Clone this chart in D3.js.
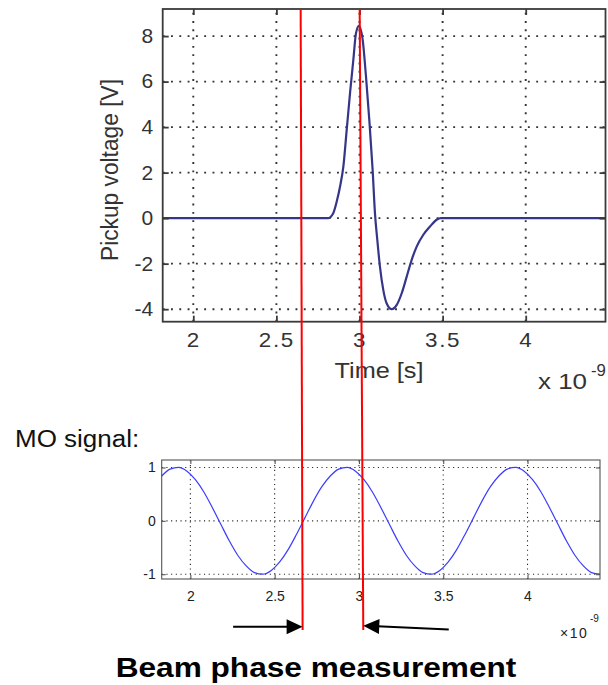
<!DOCTYPE html>
<html>
<head>
<meta charset="utf-8">
<script src="https://cdn.jsdelivr.net/npm/d3@7"></script>
<style>
  html, body { margin: 0; padding: 0; background: #fff; }
  svg { display: block; }
  text { font-family: "Liberation Sans", Arial, Helvetica, sans-serif; }
</style>
</head>
<body>
<svg id="fig" width="608" height="685"></svg>
<script>
// ---- Pickup pulse: time [ns] and voltage [V] ----
const pulseTime = [1.816, 2.81, 2.842, 2.863, 2.883, 2.903, 2.923, 2.943, 2.963, 2.979, 2.997,
                   3.019, 3.039, 3.059, 3.079, 3.093, 3.107, 3.123, 3.143, 3.163, 3.194,
                   3.224, 3.254, 3.284, 3.314, 3.344, 3.384, 3.424, 3.464, 3.49, 4.48];
const pulseVolt = [0, 0, 0.22, 0.73, 1.39, 2.27, 3.88, 5.49, 6.96, 8.13, 8.45,
                   7.84, 6.23, 4.32, 2.12, 0.22, -0.95, -2.13, -3.15, -3.74, -4.00,
                   -3.81, -3.30, -2.57, -1.83, -1.25, -0.73, -0.37, -0.07, 0, 0];

// ---- Master oscillator (MO) reference: time [ns] and normalised amplitude ----
const moTime = [1.83, 1.88, 1.93, 1.98, 2.03, 2.08, 2.13, 2.18, 2.23, 2.28, 2.33, 2.38, 2.43,
                2.48, 2.53, 2.58, 2.63, 2.68, 2.73, 2.78, 2.83, 2.88, 2.93, 2.98, 3.03, 3.08,
                3.13, 3.18, 3.23, 3.28, 3.33, 3.38, 3.43, 3.48, 3.53, 3.58, 3.63, 3.68, 3.73,
                3.78, 3.83, 3.88, 3.93, 3.98, 4.03, 4.08, 4.13, 4.18, 4.23, 4.28, 4.33, 4.38, 4.43];
const moValue = [0.84, 0.97, 1.00, 0.93, 0.77, 0.54, 0.25, -0.06, -0.37, -0.64, -0.84, -0.97, -1.00,
                 -0.93, -0.77, -0.54, -0.25, 0.06, 0.37, 0.64, 0.84, 0.97, 1.00, 0.93, 0.77, 0.54,
                 0.25, -0.06, -0.37, -0.64, -0.84, -0.97, -1.00, -0.93, -0.77, -0.54, -0.25, 0.06, 0.37,
                 0.64, 0.84, 0.97, 1.00, 0.93, 0.77, 0.54, 0.25, -0.06, -0.37, -0.64, -0.84, -0.97, -1.00];

// ---- Tick values ----
const timeTicks = [2, 2.5, 3, 3.5, 4];
const pulseTicks = [-4, -2, 0, 2, 4, 6, 8];
const moTicks = [-1, 0, 1];

// ---- Phase marks: time where each red line crosses the pulse plot and the MO plot ----
const markPulseTime = [2.646, 3.001];
const markMoTime = [2.665, 3.024];

const svg = d3.select("#fig");

// Scales
const xPulse = d3.scaleLinear().domain([1.816, 4.48]).range([162.7, 605.5]);
const yPulse = d3.scaleLinear().domain([-4.55, 9.19]).range([321.7, 9]);
const xMo = d3.scaleLinear().domain([1.83, 4.43]).range([161.7, 600]);
const yMo = d3.scaleLinear().domain([-1.09, 1.14]).range([579, 460]);

const fmt = d => String(d);

function drawPanel(o) {
  const g = svg.append("g");
  const [x0, x1] = o.x.range();
  const [y0, y1] = o.y.range();

  // dotted grid
  g.append("g").selectAll("line").data(o.xt).join("line")
    .attr("x1", d => o.x(d)).attr("x2", d => o.x(d))
    .attr("y1", y0).attr("y2", y1)
    .attr("stroke", o.gridColor).attr("stroke-width", o.gridWidth)
    .attr("stroke-dasharray", o.gridDash);
  g.append("g").selectAll("line").data(o.yt).join("line")
    .attr("x1", x0).attr("x2", x1)
    .attr("y1", d => o.y(d)).attr("y2", d => o.y(d))
    .attr("stroke", o.gridColor).attr("stroke-width", o.gridWidth)
    .attr("stroke-dasharray", o.gridDash);

  // trace
  const line = d3.line()
    .x(d => o.x(d[0])).y(d => o.y(d[1]))
    .curve(d3.curveMonotoneX);
  g.append("path")
    .datum(d3.zip(o.t, o.v))
    .attr("d", line)
    .attr("fill", "none")
    .attr("stroke", o.lineColor)
    .attr("stroke-width", o.lineWidth)
    .attr("stroke-linejoin", "round");

  // inward ticks on all four sides
  const tk = o.tick;
  const bottom = g.append("g").attr("transform", `translate(0,${y0})`)
    .call(d3.axisBottom(o.x).tickValues(o.xt).tickSizeInner(-tk).tickSizeOuter(0)
      .tickPadding(o.xPad).tickFormat(fmt));
  const left = g.append("g").attr("transform", `translate(${x0},0)`)
    .call(d3.axisLeft(o.y).tickValues(o.yt).tickSizeInner(-tk).tickSizeOuter(0)
      .tickPadding(o.yPad).tickFormat(fmt));
  const top = g.append("g").attr("transform", `translate(0,${y1})`)
    .call(d3.axisTop(o.x).tickValues(o.xt).tickSizeInner(-tk).tickSizeOuter(0).tickFormat(""));
  const right = g.append("g").attr("transform", `translate(${x1},0)`)
    .call(d3.axisRight(o.y).tickValues(o.yt).tickSizeInner(-tk).tickSizeOuter(0).tickFormat(""));

  [bottom, left, top, right].forEach(a => {
    a.select(".domain").remove();
    a.selectAll(".tick line").attr("stroke", o.frameColor).attr("stroke-width", o.frameWidth);
    a.attr("font-family", null).attr("font-size", null);
  });

  bottom.selectAll(".tick text")
    .attr("fill", o.textColor).style("font-size", o.fontSize)
    .attr("letter-spacing", o.xSpacing)
    .attr("transform", `scale(${o.xStretch},1)`);
  left.selectAll(".tick text")
    .attr("fill", o.textColor).style("font-size", o.fontSize)
    .attr("x", -o.yPad / o.yStretch)
    .attr("transform", `scale(${o.yStretch},1)`);

  // box
  g.append("rect")
    .attr("x", x0).attr("y", y1)
    .attr("width", x1 - x0).attr("height", y0 - y1)
    .attr("fill", "none")
    .attr("stroke", o.frameColor).attr("stroke-width", o.frameWidth);
  return g;
}

// Upper plot: pickup voltage
drawPanel({
  x: xPulse, y: yPulse, xt: timeTicks, yt: pulseTicks, t: pulseTime, v: pulseVolt,
  gridColor: "#333", gridWidth: 1.9, gridDash: "1.9,6.4",
  lineColor: "#35358a", lineWidth: 2.2,
  frameColor: "#3a3a3a", frameWidth: 1.8, tick: 6,
  textColor: "#333", fontSize: "20px", xPad: 11, yPad: 9.5,
  xStretch: 1.12, yStretch: 1.05, xSpacing: "1.5px"
});

// Lower plot: MO signal
drawPanel({
  x: xMo, y: yMo, xt: timeTicks, yt: moTicks, t: moTime, v: moValue,
  gridColor: "#222", gridWidth: 1.1, gridDash: "1.1,3.6",
  lineColor: "#3c3cff", lineWidth: 1.2,
  frameColor: "#555", frameWidth: 1.1, tick: 4,
  textColor: "#222", fontSize: "14px", xPad: 12, yPad: 6,
  xStretch: 1.0, yStretch: 1.0, xSpacing: "0px"
});

// Text helper with a horizontal stretch
function label(x, y, str, o) {
  return svg.append("text")
    .attr("transform", `translate(${x},${y}) scale(${o.sx || 1},1)`)
    .attr("text-anchor", o.anchor || "start")
    .style("font-size", o.size)
    .attr("font-weight", o.weight || "normal")
    .attr("letter-spacing", o.spacing || "0px")
    .attr("fill", o.fill || "#000")
    .text(str);
}

// Upper plot axis labels
svg.append("text")
  .attr("transform", "translate(118,170) rotate(-90)")
  .attr("text-anchor", "middle")
  .style("font-size", "23px")
  .attr("textLength", 182)
  .attr("lengthAdjust", "spacingAndGlyphs")
  .attr("fill", "#333")
  .text("Pickup voltage [V]");
label(379, 377.5, "Time [s]", { anchor: "middle", size: "22px", sx: 1.15, fill: "#333" });
label(538, 389, "x 10", { size: "22px", sx: 1.18, fill: "#333" });
label(591, 376, "-9", { size: "16px", sx: 1.05, fill: "#333" });

// Lower plot labels
label(15, 446.7, "MO signal:", { size: "23px", sx: 1.13, fill: "#111" });
label(560, 637.5, "×10", { size: "14px", spacing: "1.5px", fill: "#222" });
label(590, 622, "-9", { size: "10px", fill: "#222" });

// Title
label(316, 677, "Beam phase measurement", { anchor: "middle", size: "28px", weight: "bold", sx: 1.13, fill: "#000" });

// Red phase lines from the pulse plot down through the MO plot
const yLineTop = yPulse.range()[1];
const yMoBottom = yMo.range()[0];
const yLineEnd = 630;
const marks = d3.zip(markPulseTime, markMoTime).map(([a, b]) => {
  const xa = xPulse(a), xb = xMo(b);
  const at = y => xa + (xb - xa) * (y - yLineTop) / (yMoBottom - yLineTop);
  return { xa, xEnd: at(yLineEnd), at };
});
svg.append("g").selectAll("line").data(marks).join("line")
  .attr("x1", d => d.xa).attr("y1", yLineTop)
  .attr("x2", d => d.xEnd).attr("y2", yLineEnd)
  .attr("stroke", "#ff0000").attr("stroke-width", 2);

// Arrows pointing at the two red lines
function arrow(xs, ys, xt, yt) {
  const L = 16, W = 7.5;
  const dx = xt - xs, dy = yt - ys, len = Math.hypot(dx, dy);
  const ux = dx / len, uy = dy / len;
  const bx = xt - ux * L, by = yt - uy * L;
  svg.append("line")
    .attr("x1", xs).attr("y1", ys).attr("x2", bx + ux * 2).attr("y2", by + uy * 2)
    .attr("stroke", "#000").attr("stroke-width", 2);
  svg.append("path")
    .attr("d", `M${xt},${yt}L${bx - uy * W},${by + ux * W}L${bx + uy * W},${by - ux * W}Z`)
    .attr("fill", "#000");
}
const yL = 626.8, yR = 625.7;
arrow(marks[0].at(yL) - 69.5, yL, marks[0].at(yL), yL);
arrow(marks[1].at(yR) + 85.5, yR + 3.8, marks[1].at(yR), yR);
</script>
</body>
</html>
